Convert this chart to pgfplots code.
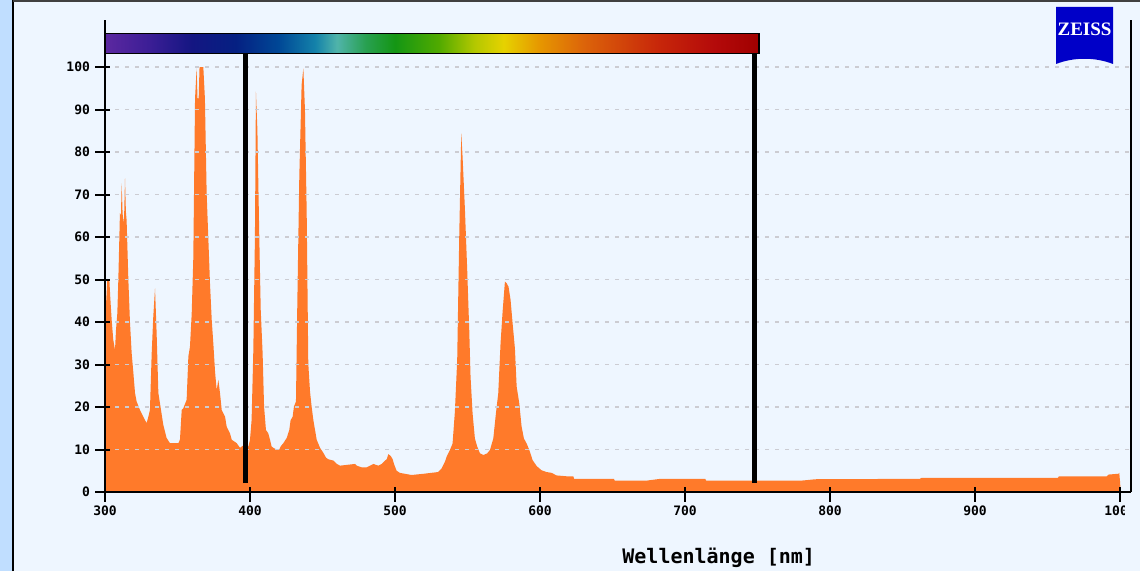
\documentclass[border=0pt]{standalone}
\usepackage{pgfplots}
\pgfplotsset{compat=1.18}
\usepackage{fontspec}
\newfontfamily\monofont{DejaVu Sans Mono}
\newfontfamily\logofont{Liberation Serif}

\definecolor{bgblue}{RGB}{238,246,255}
\definecolor{stripblue}{RGB}{192,222,255}
\definecolor{sporange}{RGB}{255,122,42}
\definecolor{gridgray}{RGB}{204,204,210}
\definecolor{zeissblue}{RGB}{0,0,200}

% spectrum bar colours
\definecolor{sa}{RGB}{92,40,160}
\definecolor{sb}{RGB}{60,30,150}
\definecolor{sc}{RGB}{20,22,130}
\definecolor{sd}{RGB}{5,32,130}
\definecolor{se}{RGB}{0,72,150}
\definecolor{sf}{RGB}{20,130,170}
\definecolor{sg}{RGB}{80,180,170}
\definecolor{sh}{RGB}{40,160,80}
\definecolor{si}{RGB}{20,150,20}
\definecolor{sj}{RGB}{80,170,0}
\definecolor{sk}{RGB}{180,200,0}
\definecolor{sl}{RGB}{230,210,0}
\definecolor{sm}{RGB}{230,150,0}
\definecolor{sn}{RGB}{220,100,10}
\definecolor{so}{RGB}{200,40,10}
\definecolor{sp}{RGB}{180,10,10}
\definecolor{sq}{RGB}{160,0,0}

\pgfdeclarehorizontalshading{spectrum}{100bp}{%
  color(0bp)=(sa); color(25bp)=(sa); color(28.33bp)=(sb); color(31.65bp)=(sc);
  color(34.98bp)=(sd); color(38.3bp)=(se); color(41.08bp)=(sf); color(42.74bp)=(sg);
  color(44.96bp)=(sh); color(47.17bp)=(si); color(50.5bp)=(sj); color(53.27bp)=(sk);
  color(55.49bp)=(sl); color(58.26bp)=(sm); color(61.59bp)=(sn); color(67.13bp)=(so);
  color(71.56bp)=(sp); color(75bp)=(sq); color(100bp)=(sq)}

\begin{document}
\begin{tikzpicture}[x=1pt,y=1pt]
\useasboundingbox (0,0) rectangle (1140,571);
\fill[bgblue] (0,0) rectangle (1140,571);
\fill[stripblue] (0,0) rectangle (12,571);
\draw[black,line width=1.5pt] (13,0) -- (13,571);
\fill[black!75] (13,569) rectangle (1140,571);

\begin{axis}[
  at={(105pt,79pt)}, anchor=south west,
  scale only axis, width=1026pt, height=472pt,
  xmin=300, xmax=1007.6, ymin=0, ymax=111.06,
  axis lines*=left,
  axis line style={line width=1.6pt},
  axis on top,
  xtick={300,400,...,1000},
  ytick={0,10,...,100},
  ymajorgrids,
  grid style={gridgray,line width=1.3pt,dash pattern=on 4pt off 6pt},
  tick align=center,
  major tick length=15pt,
  tick style={black,line width=2pt},
  x tick style={yshift=-2pt},
  y tick style={xshift=-2.5pt},
  /pgf/number format/1000 sep={},
  /pgf/number format/assume math mode=true,
  tick label style={font=\monofont\bfseries\fontsize{13}{13}\selectfont},
  xticklabel style={yshift=-3pt},
  yticklabel style={xshift=-4pt},
]

% spectrum (relative intensity)
\addplot[fill=sporange,draw=none] coordinates {
  (300,44) (300.7,44) (301.6,50) (303.0,50) (303.6,46) (304.6,40.5) (305.7,35.8)
  (306.9,33.4) (307.6,38.2) (308.5,42) (309.2,50) (310.3,65.6) (311.0,65)
  (311.5,72.6) (312.1,66) (312.6,63.2) (313.2,65) (313.8,73.8) (314.4,66)
  (314.9,64) (316.1,50) (317.2,40.1) (318.4,32.6) (319.5,28.3) (320.7,23.3)
  (321.8,21.3) (324.1,19.3) (326.4,17.7) (328.7,16.2) (329.9,17.7) (331.0,19.3)
  (332.2,32.6) (333.3,41.3) (334.5,47.9) (335.6,37.4) (336.8,23.3) (337.9,20.9)
  (340.2,15.8) (342.5,12.7) (344.8,11.5) (350.6,11.5) (351.7,12.3) (352.9,19.3)
  (354.0,19.7) (356.3,21.7) (357.5,31.9) (358.6,34.2) (359.8,42.0) (360.9,55.0)
  (362.1,92.6) (363.2,99.7) (363.8,92.6) (364.6,92.6) (365.2,100) (367.8,100)
  (368.9,92.6) (370.1,70.3) (371.3,59.3) (372.4,49.1) (373.6,40.5) (374.7,35.0)
  (375.9,28.3) (377.0,24.0) (378.2,26.4) (379.3,23.3) (380.5,19.3) (382.8,17.7)
  (383.9,15.4) (386.2,13.8) (387.4,12.3) (390.8,11.5) (393.1,10.4) (396,11.1)
  (398.9,10.7) (400.0,12.3) (401.1,16.9) (402.3,33.4) (403.4,60.1) (404.1,94.2)
  (405.1,85.2) (406.4,60.1) (407.4,42.8) (408.7,32.6) (409.7,20.1) (411.0,14.6)
  (412.6,13.8) (413.8,12.3) (414.9,10.7) (416.1,10.4) (418.4,10.0) (420.2,10.0)
  (421.1,10.7) (423.0,11.5) (425.3,12.7) (427.1,14.6) (428.0,16.9) (429.4,17.7)
  (430.3,20.1) (431.7,21.3) (432.6,43.6) (434.0,74.2) (435.6,95.8) (436.8,99.7)
  (437.9,89.9) (439.1,65.6) (440.2,30.2) (441.4,23.6) (442.5,20.1) (443.7,16.9)
  (446.0,12.3) (448.3,10.4) (450.6,9.2) (452.4,8.1) (454.0,7.7) (457.5,7.4)
  (459.8,6.6) (462.1,6.2) (472.4,6.6) (473.6,6.2) (477.0,5.8) (480.5,5.8)
  (485.1,6.6) (488.5,6.2) (490.8,6.6) (493.1,7.4) (494.3,7.7) (495.4,8.9)
  (497.0,8.5) (498.4,7.7) (499.3,6.6) (501.1,5.0) (503.4,4.5) (511.4,4.0)
  (520,4.3) (529.8,4.7) (532.1,5.5) (534.4,7.1) (535.6,8.3) (537.9,9.9)
  (539.7,11.4) (541.3,18.9) (542.9,31.1) (544.3,60.1) (545.7,84.4) (546.6,78.9)
  (548.2,66.7) (549.8,52.2) (551.2,38.1) (552.1,27.1) (553.5,18.5) (555.1,12.6)
  (556.7,10.7) (558.6,9.1) (560.9,8.7) (563.6,9.1) (565.5,9.9) (567.8,12.6)
  (569.6,18.5) (571.2,23.2) (572.8,35.0) (574.2,42.4) (575.8,49.5) (577.0,49.1)
  (578.3,48.3) (579.7,45.2) (581.1,39.7) (582.7,33.8) (583.9,24.8) (585.7,20.9)
  (587.3,15.4) (588.9,12.6) (590.8,11.4) (592.6,9.9) (594.9,7.5) (597.7,6.1)
  (601.1,5.1) (604.5,4.7) (608.0,4.5) (611.4,3.9) (618.3,3.7) (623,3.7)
  (623.5,3.1) (651,3.1) (651.5,2.7) (674,2.7) (683,3.1) (714,3.1) (714.5,2.7)
  (781,2.7) (790,3.0) (862,3.1) (863,3.3) (957,3.3) (958,3.7) (991,3.7)
  (992,4.1) (999,4.3) (999.5,4.5) (1000,2.5) (1000.5,0)
} \closedcycle;

\coordinate (la) at (axis cs:397.2,2.1);
\coordinate (lb) at (axis cs:747.6,2.1);
\coordinate (bartop) at (axis cs:751,107.9);
\coordinate (barbot) at (axis cs:300,103.2);
\end{axis}

% spectrum bar and range markers
\draw[line width=5pt] (la) -- (la |- barbot);
\draw[line width=5pt] (lb) -- (lb |- barbot);
\shade[shading=spectrum] (barbot) rectangle (bartop);
\draw[line width=1.5pt] (barbot) rectangle (bartop);

% right frame line
\draw[line width=1.6pt] (1131,79) -- (1131,551);

% clipped last tick label
\fill[bgblue] (1124.5,40) rectangle (1140,76);

% axis title
\node[font=\monofont\bfseries\fontsize{20}{20}\selectfont,anchor=base] at (718.7,8) {Wellenlänge [nm]};

% logo
\fill[zeissblue] (1056,564) -- (1113,564) -- (1113,507)
  .. controls (1095,514) and (1074,514) .. (1056,507) -- cycle;
\node[font=\logofont\bfseries\fontsize{19}{19}\selectfont,text=white,anchor=base] at (1084.5,535.5) {ZEISS};
\end{tikzpicture}
\end{document}
